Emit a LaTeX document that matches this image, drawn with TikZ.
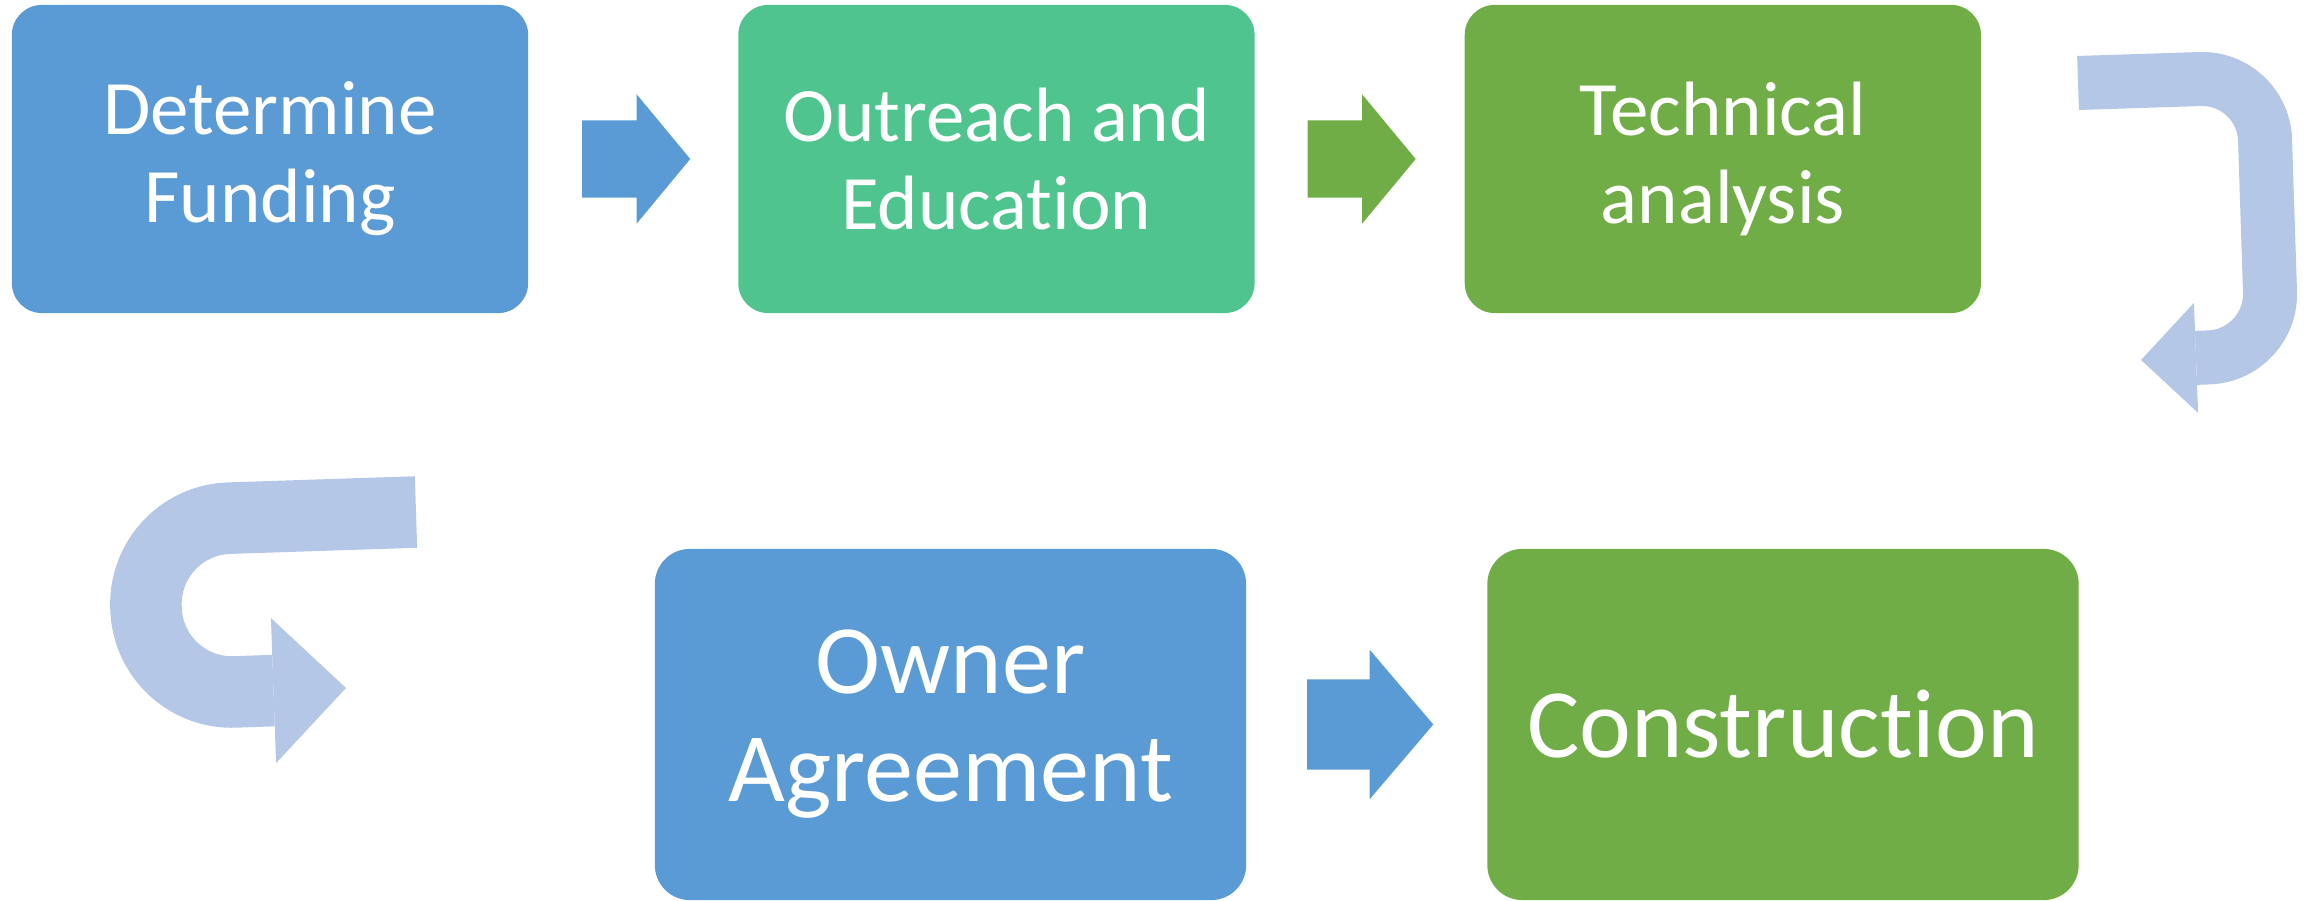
\documentclass[tikz,border=0pt]{standalone}
\usepackage{fontspec}
\setmainfont{Carlito}[Ligatures=CommonOff]
\usepackage{tikz}
\usetikzlibrary{shapes,arrows.meta,calc,positioning}
\definecolor{stepblue}{HTML}{5B9BD5}
\definecolor{stepteal}{HTML}{50C48E}
\definecolor{stepgreen}{HTML}{70AD47}
\definecolor{loopblue}{HTML}{B4C7E7}
\tikzset{
    x=0.01cm, y=-0.01cm, node distance = 2.1cm and 2.1cm,
    stage/.style ={rectangle, rounded corners=0.3cm, minimum width=5.16cm, minimum height=3.08cm, inner sep=0pt, outer sep=0pt, text=white, align=center, font=\fontsize{21.9}{25}\selectfont},
    bigstage/.style ={stage, rounded corners=0.35cm, minimum width=5.91cm, minimum height=3.51cm, font=\fontsize{27.9}{30.7}\selectfont},
    flow/.style = {single arrow, minimum height=1.08cm, inner xsep=0pt, inner ysep=0.38cm, outer sep=0pt, single arrow head extend=0.26cm, single arrow tip angle=100.7},
    bigflow/.style = {flow, minimum height=1.26cm, inner ysep=0.445cm, single arrow head extend=0.295cm, single arrow tip angle=99.2},
    turn/.style = {draw=loopblue, rounded corners=0.63cm, line cap=butt, line join=round}
}
\begin{document}
\begin{tikzpicture}
    \useasboundingbox (0,0) rectangle (2313,901);
    \node[stage, fill=stepblue] (fund) at (270,159) {Determine\\Funding};
    \node[stage, fill=stepteal] (outreach) [right = of fund] {Outreach and\\Education};
    \node[stage, fill=stepgreen] (tech) [right = of outreach] {Technical\\analysis};
    \node[bigstage, fill=stepblue] (owner) at (950.5,724.5) {Owner\\Agreement};
    \node[bigstage, fill=stepgreen] (constr) [right = 2.41cm of owner] {Construction};

    \node[flow, fill=stepblue] (a1) [right = 0.54cm of fund] {};
    \node[flow, fill=stepgreen] (a2) [right = 0.53cm of outreach] {};
    \node[bigflow, fill=stepblue] (a3) [right = 0.61cm of owner] {};

    \coordinate (r1) at (2078,83);
    \coordinate (r2) at (2263,77);
    \coordinate (r3) at (2272,355);
    \coordinate (r4) at (2141,360);
    \draw[turn, line width=0.54cm, -{Triangle[length=0.55cm, width=1.10cm, line width=0pt]}] (r1) -- (r2) -- (r3) -- (r4);

    \coordinate (l1) at (416,512);
    \coordinate (l2) at (143,521);
    \coordinate (l3) at (149,695);
    \coordinate (l4) at (346,688);
    \draw[turn, rounded corners=0.86cm, line width=0.715cm, -{Triangle[length=0.725cm, width=1.45cm, line width=0pt]}] (l1) -- (l2) -- (l3) -- (l4);
\end{tikzpicture}
\end{document}
